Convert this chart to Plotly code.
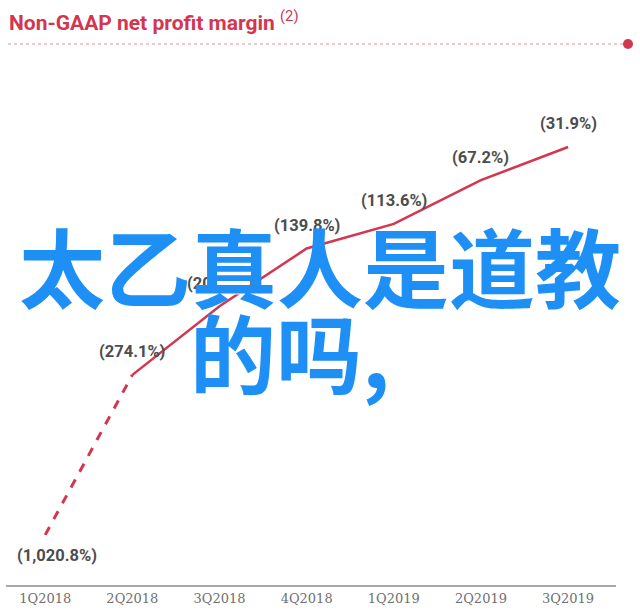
import plotly.graph_objects as go

quarters = ["1Q2018", "2Q2018", "3Q2018", "4Q2018", "1Q2019", "2Q2019", "3Q2019"]
margin_loss_pct = [1020.8, 274.1, 201.1, 139.8, 113.6, 67.2, 31.9]
labels = ["(1,020.8%)", "(274.1%)", "(201.1%)", "(139.8%)", "(113.6%)", "(67.2%)", "(31.9%)"]

# broken axis: values above the break are compressed (dashed segment)
BREAK_AT = 300.0
BREAK_SCALE = 0.2
def axis_pos(v):
    return -(v if v <= BREAK_AT else BREAK_AT + (v - BREAK_AT) * BREAK_SCALE)

y_plot = [axis_pos(v) for v in margin_loss_pct]

RED = "#d3364f"
W, H = 640, 616
L, R, T, B = 6, 24, 0, 31
PW, PH = W - L - R, H - T - B

def px(X):
    return (X - L) / PW

def py(Y):
    return (H - B - Y) / PH

fig = go.Figure()
fig.add_trace(go.Scatter(x=quarters[:2], y=y_plot[:2], mode="lines",
                         line=dict(color=RED, width=3, dash="dash"), hoverinfo="skip"))
fig.add_trace(go.Scatter(x=quarters[1:], y=y_plot[1:], mode="lines",
                         line=dict(color=RED, width=2.5), hoverinfo="skip"))

LBL_FONT = dict(family="Roboto", size=16.5, color="#4d4d4d", weight="bold")
ann = []
for i, (q, y, t) in enumerate(zip(quarters, y_plot, labels)):
    if i == 0:
        ann.append(dict(x=q, y=y, text=t, showarrow=False, xshift=12, yshift=-21, font=LBL_FONT))
    else:
        ann.append(dict(x=q, y=y, text=t, showarrow=False, yshift=23, font=LBL_FONT))

# white patch covering part of a label
ann.append(dict(xref="paper", yref="paper", x=px(231), y=py(287), text=" ", showarrow=False,
                bgcolor="white", width=34, height=13, borderpad=0))

# title
ann.append(dict(xref="paper", yref="paper", x=px(7), y=py(21), xanchor="left", yanchor="middle",
                text="<b>Non-GAAP net profit margin</b> <sup>(2)</sup>", showarrow=False,
                font=dict(family="Roboto", size=21, color=RED)))

# overlay text
ann.append(dict(xref="paper", yref="paper", x=px(320), y=py(265), xanchor="center", yanchor="middle",
                text="<b>太乙真人是道教</b>", showarrow=False,
                font=dict(family="Noto Sans CJK SC", size=86, color="#1e8ff5")))
ann.append(dict(xref="paper", yref="paper", x=px(188), y=py(350), xanchor="left", yanchor="middle",
                text="<b>的吗,</b>", showarrow=False,
                font=dict(family="Noto Sans CJK SC", size=86, color="#1e8ff5")))

shapes = [
    dict(type="line", xref="paper", yref="paper", x0=px(8), x1=px(627), y0=py(44), y1=py(44),
         line=dict(color="#e8909e", width=1.2, dash="dot")),
    dict(type="circle", xref="paper", yref="paper", x0=px(623), x1=px(633), y0=py(39), y1=py(49),
         fillcolor=RED, line=dict(color=RED, width=0)),
]

fig.update_layout(
    width=W, height=H, margin=dict(l=L, r=R, t=T, b=B),
    paper_bgcolor="white", plot_bgcolor="white", showlegend=False,
    annotations=ann, shapes=shapes,
    xaxis=dict(type="category", range=[-0.45, 6.55], showgrid=False, zeroline=False,
               showline=True, linecolor="#a8a8a8", linewidth=2, ticks="",
               tickfont=dict(family="DejaVu Serif", size=13, color="#707070"), fixedrange=True),
    yaxis=dict(range=[-497.4, 124.3], visible=False, showgrid=False, zeroline=False, fixedrange=True),
)

fig.write_html("out.html")
